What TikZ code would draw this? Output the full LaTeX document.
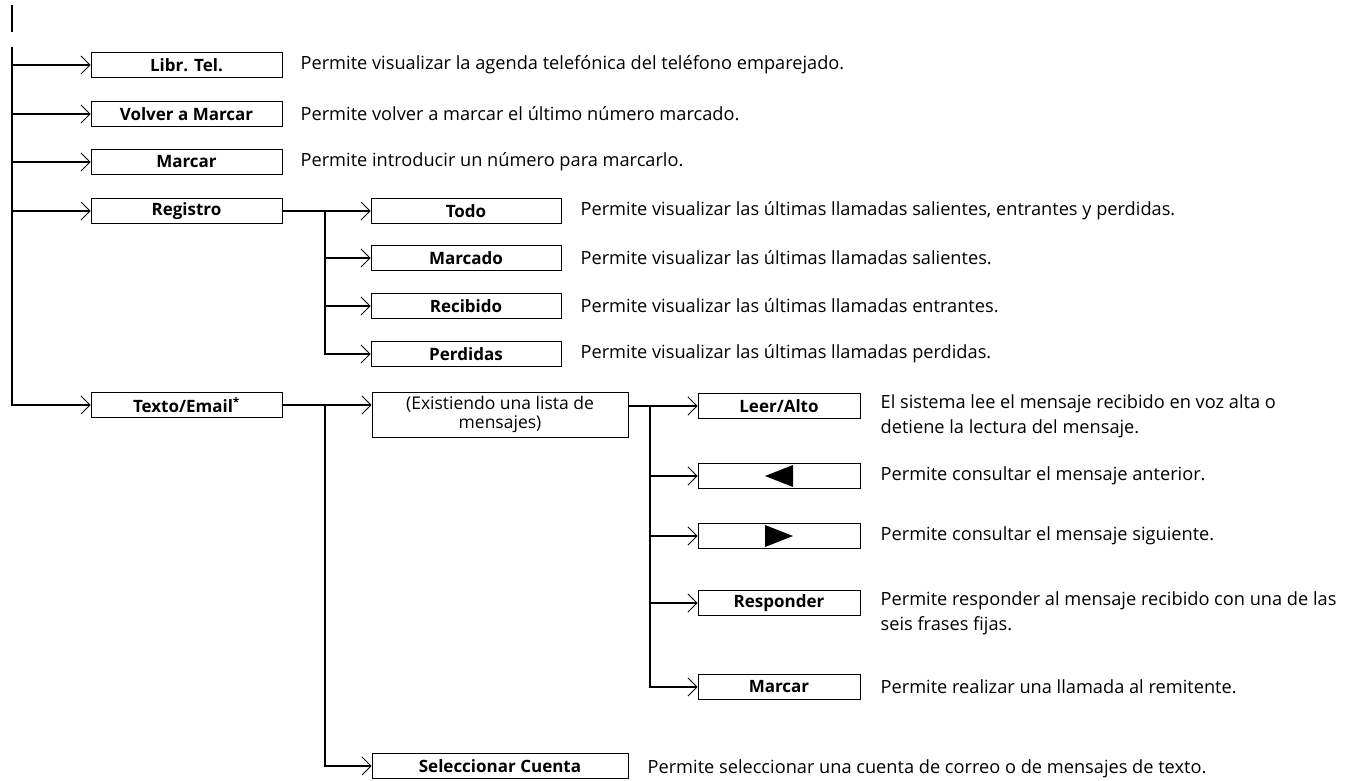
\documentclass[tikz,border=0pt]{standalone}
\usepackage{fontspec}
\setmainfont{Open Sans}
\usetikzlibrary{arrows.meta}

\begin{document}
\begin{tikzpicture}[x=1pt,y=-1pt,
  >={Straight Barb[length=9pt,width=18pt,line width=0.8pt]},
  link/.style={line width=1.6pt},
  menubox/.style={draw,line width=0.9pt,minimum width=191pt,minimum height=25pt,inner sep=0pt,font=\bfseries\fontsize{17}{20}\selectfont},
  subbox/.style={menubox,minimum width=162pt},
  widebox/.style={menubox,minimum width=256pt},
  desc/.style={inner sep=0pt,anchor=west,align=left,font=\fontsize{18.2}{25}\selectfont}]
\useasboundingbox (0,0) rectangle (1371,781);

% first level
\node[menubox] (libr) at (186.5,65) {Libr. Tel.};
\node[menubox] (volver) at (186.5,114) {Volver a Marcar};
\node[menubox] (marcar) at (186.5,162) {Marcar};
\node[menubox] (registro) at (186.5,211) {Registro};
\node[menubox] (texto) at (186.5,405) {Texto/Email\textsuperscript{*}};
\node[desc] (dlibr) at ([xshift=18pt]libr.east) {Permite visualizar la agenda telefónica del teléfono emparejado.};
\node[desc] (dvolver) at ([xshift=18pt]volver.east) {Permite volver a marcar el último número marcado.};
\node[desc] (dmarcar) at ([xshift=18pt]marcar.east) {Permite introducir un número para marcarlo.};

% Registro
\node[menubox,minimum width=190pt] (todo) at (466,211) {Todo};
\node[menubox,minimum width=190pt] (marcado) at (466,258) {Marcado};
\node[menubox,minimum width=190pt] (recibido) at (466,306) {Recibido};
\node[menubox,minimum width=190pt] (perdidas) at (466,354) {Perdidas};
\node[desc] (dtodo) at ([xshift=19pt]todo.east) {Permite visualizar las últimas llamadas salientes, entrantes y perdidas.};
\node[desc] (dmarcado) at ([xshift=19pt]marcado.east) {Permite visualizar las últimas llamadas salientes.};
\node[desc] (drecibido) at ([xshift=19pt]recibido.east) {Permite visualizar las últimas llamadas entrantes.};
\node[desc] (dperdidas) at ([xshift=19pt]perdidas.east) {Permite visualizar las últimas llamadas perdidas.};

% Texto/Email
\node[widebox,minimum height=45pt,align=center,font=\fontsize{17.5}{19}\selectfont] (exist) at (500,414.5) {(Existiendo una lista de\\mensajes)};
\node[widebox] (selec) at (500,766) {Seleccionar Cuenta};
\node[desc] (dselec) at ([xshift=19pt,yshift=-3pt]selec.east) {Permite seleccionar una cuenta de correo o de mensajes de texto.};

% mensajes
\node[subbox] (leer) at (779,406) {Leer/Alto};
\node[subbox] (prev) at (779,476) {};
\node[subbox] (next) at (779,536) {};
\node[subbox] (resp) at (779,603) {Responder};
\node[subbox] (marc2) at (779,687) {Marcar};
\fill ([xshift=-14pt]prev.center) -- ([xshift=14pt,yshift=11pt]prev.center) -- ([xshift=14pt,yshift=-11pt]prev.center) -- cycle;
\fill ([xshift=14pt]next.center) -- ([xshift=-14pt,yshift=11pt]next.center) -- ([xshift=-14pt,yshift=-11pt]next.center) -- cycle;
\node[desc,anchor=north west] (dleer) at ([xshift=20pt,yshift=-1pt]leer.north east) {El sistema lee el mensaje recibido en voz alta o\\detiene la lectura del mensaje.};
\node[desc] (dprev) at ([xshift=20pt]prev.east) {Permite consultar el mensaje anterior.};
\node[desc] (dnext) at ([xshift=20pt]next.east) {Permite consultar el mensaje siguiente.};
\node[desc,anchor=north west] (dresp) at ([xshift=20pt,yshift=-1pt]resp.north east) {Permite responder al mensaje recibido con una de las\\seis frases fijas.};
\node[desc] (dmarc2) at ([xshift=20pt]marc2.east) {Permite realizar una llamada al remitente.};

% connectors
\coordinate (tick1) at (12,5);
\coordinate (tick2) at (12,32);
\draw[link] (tick1) -- (tick2);
\coordinate (mtop) at (12,47);
\draw[link,->] (mtop) |- (texto);
\foreach \n in {libr,volver,marcar,registro}
  \draw[link,->] (mtop |- \n) -- (\n);

\coordinate (rj) at (325,211);
\draw[link,->] (registro) -- (todo);
\draw[link,->] (rj) |- (perdidas);
\foreach \n in {marcado,recibido}
  \draw[link,->] (rj |- \n) -- (\n);

\coordinate (tj) at (325,405);
\draw[link,->] (texto) -- (texto -| exist.west);
\draw[link,->] (tj) |- (selec);

\coordinate (ej) at (650,405);
\draw[link,->] (exist.east |- leer) -- (leer);
\draw[link,->] (ej) |- (marc2);
\foreach \n in {prev,next,resp}
  \draw[link,->] (ej |- \n) -- (\n);
\end{tikzpicture}
\end{document}
